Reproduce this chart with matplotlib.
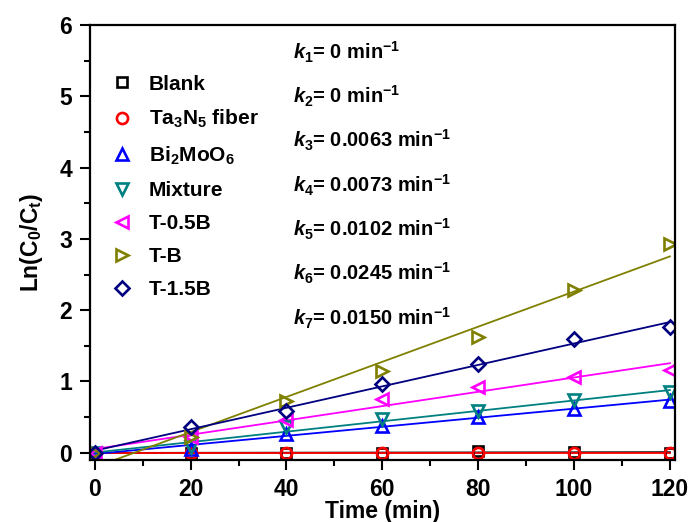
import numpy as np
import matplotlib
matplotlib.use("Agg")
import matplotlib.pyplot as plt

# Pseudo-first-order kinetics, Ln(C0/Ct) vs time
plt.rcParams['font.family'] = 'Liberation Sans'
plt.rcParams['font.weight'] = 'bold'
plt.rcParams['mathtext.fontset'] = 'custom'
plt.rcParams['mathtext.rm'] = 'Liberation Sans:bold'
plt.rcParams['mathtext.bf'] = 'Liberation Sans:bold'
plt.rcParams['mathtext.it'] = 'Liberation Sans:bold:italic'

time = [0, 20, 40, 60, 80, 100, 120]

blank = [0.0, 0.0, -0.01, 0.0, 0.02, 0.01, 0.0]
ta3n5 = [0.0, 0.0, 0.0, -0.01, 0.0, 0.0, 0.0]
bi2moo6 = [0.0, 0.05, 0.27, 0.38, 0.50, 0.62, 0.73]
mixture = [0.0, 0.08, 0.36, 0.48, 0.58, 0.74, 0.85]
t_05b = [0.0, 0.22, 0.46, 0.76, 0.92, 1.06, 1.16]
t_b = [0.0, 0.22, 0.73, 1.15, 1.62, 2.28, 2.93]
t_15b = [0.0, 0.36, 0.59, 0.96, 1.25, 1.60, 1.76]

labels = ['Blank', 'Ta$_3$N$_5$ fiber', 'Bi$_2$MoO$_6$', 'Mixture',
          'T-0.5B', 'T-B', 'T-1.5B']
rates = ['0', '0', '0.0063', '0.0073', '0.0102', '0.0245', '0.0150']

series = [blank, ta3n5, bi2moo6, mixture, t_05b, t_b, t_15b]
colors = ['black', '#FF0000', '#0000FF', '#008080', '#FF00FF', '#808000', '#000080']
markers = ['s', 'o', '^', 'v', '<', '>', 'D']
msizes = [7, 8, 8.5, 8.5, 8.5, 8.5, 7.5]

fig = plt.figure(figsize=(6.92, 5.22), dpi=100)
ax = fig.add_axes([0.130, 0.119, 0.845, 0.833])

# fitted lines first, then markers on top
tt = np.array(time)
for y, c in zip(series, colors):
    k, b = np.polyfit(tt, y, 1)
    ax.plot([0, 120], [b, b + k * 120], '-', color=c, lw=1.3)
for y, c, m, ms, lab in zip(series, colors, markers, msizes, labels):
    ax.plot(time, y, linestyle='none', marker=m, ms=ms, mfc='none',
            mec=c, mew=1.9, label=lab)

ax.set_xlim(-1, 121)
ax.set_ylim(-0.1, 6)
ax.set_xticks([0, 20, 40, 60, 80, 100, 120])
ax.set_xticks([10, 30, 50, 70, 90, 110], minor=True)
ax.set_yticks([0, 1, 2, 3, 4, 5, 6])
ax.set_yticks([0.5, 1.5, 2.5, 3.5, 4.5, 5.5], minor=True)
ax.tick_params(which='major', direction='out', length=7, width=1.5,
               labelsize=16.5, pad=6)
ax.tick_params(which='minor', direction='out', length=4, width=1.5)
for s in ax.spines.values():
    s.set_linewidth(1.6)

ax.set_xlabel('Time (min)', fontsize=16.5, fontweight='bold', labelpad=-1)
ax.set_ylabel('Ln(C$_0$/C$_\\mathrm{t}$)', fontsize=16.5, fontweight='bold',
              labelpad=10)

for i, r in enumerate(rates):
    ax.text(41.3, 5.62 - 0.622 * i,
            '$\\mathit{k}_{%d}$= %s min$^{-1}$' % (i + 1, r),
            fontsize=14.5, fontweight='bold', va='center', ha='left')

ax.legend(loc='upper left', bbox_to_anchor=(0.022, 0.905), frameon=False,
          fontsize=15, handlelength=1.0, handletextpad=0.8,
          labelspacing=0.68, borderaxespad=0)

fig.savefig('out.png', dpi=100)
